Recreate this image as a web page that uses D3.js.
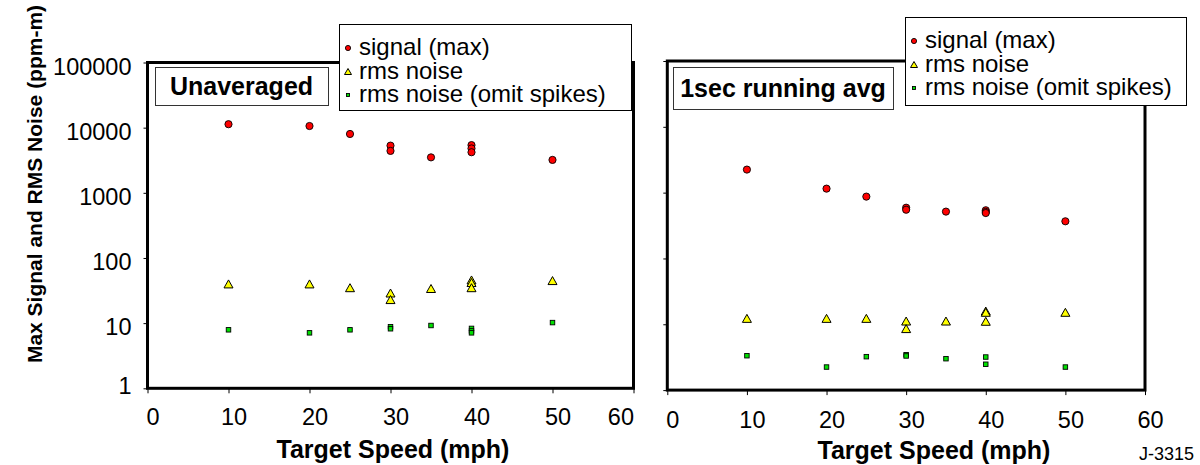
<!DOCTYPE html>
<html>
<head>
<meta charset="utf-8">
<script src="https://cdn.jsdelivr.net/npm/d3@7"></script>
<style>
  html, body { margin: 0; padding: 0; background: #fff; }
  svg { display: block; }
</style>
</head>
<body>
<svg id="chart" width="1200" height="465"></svg>
<script>
// ---- data: [target speed (mph), value (ppm-m)] ----
const unavgSignal = [[10, 11300], [20, 10600], [25, 8000], [30, 5300], [30, 4400],
  [35, 3500], [40, 5400], [40, 4800], [40, 4200], [50, 3200]];
const unavgRms = [[10, 40], [20, 40], [25, 35], [30, 29], [30, 23], [35, 34],
  [40, 46], [40, 42], [40, 35], [50, 45]];
const unavgRmsNoSpikes = [[10, 7.9], [20, 7.1], [25, 7.9], [30, 8.8], [30, 8.2],
  [35, 9.2], [40, 8.3], [40, 7.6], [40, 7.1], [50, 10.2]];

const avgSignal = [[10, 2240], [20, 1150], [25, 870], [30, 590], [30, 550],
  [35, 515], [40, 540], [40, 510], [40, 490], [50, 367]];
const avgRms = [[10, 12.3], [20, 12.3], [25, 12.3], [30, 11.2], [30, 8.6],
  [35, 11.2], [40, 15.9], [40, 15.2], [40, 11.1], [50, 15.2]];
const avgRmsNoSpikes = [[10, 3.33], [20, 2.24], [25, 3.22], [30, 3.45], [30, 3.3],
  [35, 3.0], [40, 3.18], [40, 2.47], [50, 2.24]];

const xTicks = [0, 10, 20, 30, 40, 50, 60];
const yTicks = [1, 10, 100, 1000, 10000, 100000];
const legendLabels = ["signal (max)", "rms noise", "rms noise (omit spikes)"];
const panelTitles = ["Unaveraged", "1sec running avg"];
const xTitle = "Target Speed (mph)";
const yTitle = "Max Signal and RMS Noise (ppm-m)";

const FONT = '"Liberation Sans", Arial, Helvetica, sans-serif';
const svg = d3.select("#chart");

// marker painters
function drawCircle(g, x, y, r) {
  g.append("circle").attr("cx", x).attr("cy", y).attr("r", r)
    .attr("fill", "#ff0000").attr("stroke", "#000").attr("stroke-width", 0.9);
}
function drawTriangle(g, x, y, w, h) {
  g.append("path")
    .attr("d", `M${x},${y - h / 2}L${x - w / 2},${y + h / 2}L${x + w / 2},${y + h / 2}Z`)
    .attr("fill", "#ffff00").attr("stroke", "#000").attr("stroke-width", 1);
}
function drawSquare(g, x, y, s) {
  g.append("rect").attr("x", x - s / 2).attr("y", y - s / 2).attr("width", s).attr("height", s)
    .attr("fill", "#00e000").attr("stroke", "#000").attr("stroke-width", 0.9);
}

function drawPanel(cfg) {
  const x = d3.scaleLinear().domain([0, 60]).range([cfg.left, cfg.right]);
  const y = d3.scaleLog().domain([1, 100000]).range([cfg.bottom, cfg.top]);
  const g = svg.append("g");

  // x axis
  const xa = g.append("g").attr("transform", `translate(0,${cfg.bottom})`)
    .call(d3.axisBottom(x).tickValues(xTicks).tickSize(5).tickFormat(d3.format("d")));
  xa.select(".domain").remove();
  xa.selectAll(".tick line").attr("stroke", "#000").attr("stroke-width", 1);
  xa.selectAll(".tick text")
    .attr("font-family", FONT).attr("font-size", 23.5).attr("fill", "#000")
    .attr("dy", null).attr("y", cfg.xLabelOffset)
    .attr("x", 5)
    .attr("text-anchor", "middle");
  if (cfg.clampLastLabel) {
    xa.selectAll(".tick text").filter(d => d === 60).attr("x", 0).attr("text-anchor", "end");
  }

  // y axis
  const ya = g.append("g").attr("transform", `translate(${cfg.left},0)`)
    .call(d3.axisLeft(y).tickValues(yTicks).tickSize(4).tickPadding(12)
      .tickFormat(d => cfg.yLabels ? String(d) : ""));
  ya.select(".domain").remove();
  ya.selectAll(".tick line").attr("stroke", "#000").attr("stroke-width", 1);
  ya.selectAll(".tick text")
    .attr("font-family", FONT).attr("font-size", 23.5).attr("fill", "#000")
    .attr("dy", d => d === 1 ? "0.24em" : "0.5em");

  // plot area frame
  g.append("rect")
    .attr("x", cfg.left).attr("y", cfg.top)
    .attr("width", cfg.right - cfg.left).attr("height", cfg.bottom - cfg.top)
    .attr("fill", "none").attr("stroke", "#000").attr("stroke-width", 3);

  // points
  const pts = g.append("g");
  cfg.signal.forEach(d => drawCircle(pts, x(d[0]), y(d[1]), 3.6));
  cfg.rms.forEach(d => drawTriangle(pts, x(d[0]), y(d[1]), 9, 8));
  cfg.rmsNoSpikes.forEach(d => drawSquare(pts, x(d[0]), y(d[1]), 4.5));

  // panel title box
  const tb = cfg.titleBox;
  g.append("rect").attr("x", tb.x + 0.5).attr("y", tb.y + 0.5)
    .attr("width", tb.w).attr("height", tb.h)
    .attr("fill", "#fff").attr("stroke", "#333").attr("stroke-width", 1);
  g.append("text").attr("x", tb.x + tb.w / 2).attr("y", tb.y + tb.h / 2 + 9)
    .attr("text-anchor", "middle")
    .attr("font-family", FONT).attr("font-weight", "bold").attr("font-size", 25)
    .text(cfg.title);

  // legend
  const lb = cfg.legendBox;
  const lg = g.append("g");
  lg.append("rect").attr("x", lb.x + 0.5).attr("y", lb.y + 0.5)
    .attr("width", lb.w).attr("height", lb.h)
    .attr("fill", "#fff").attr("stroke", "#000").attr("stroke-width", 1);
  legendLabels.forEach((t, i) => {
    const by = lb.y + 31 + i * 23.5;
    const my = by - 7;
    const mx = lb.x + 9;
    if (i === 0) drawCircle(lg, mx, my, 2.6);
    if (i === 1) drawTriangle(lg, mx, my, 7, 6);
    if (i === 2) drawSquare(lg, mx, my, 3);
    lg.append("text").attr("x", lb.x + 20).attr("y", by)
      .attr("font-family", FONT).attr("font-size", 24).attr("fill", "#000")
      .text(t);
  });

  // x axis title
  g.append("text").attr("x", cfg.xTitleX).attr("y", cfg.xTitleY)
    .attr("text-anchor", "middle")
    .attr("font-family", FONT).attr("font-weight", "bold").attr("font-size", 25)
    .text(xTitle);
}

drawPanel({
  left: 147.5, right: 633.5, top: 62.5, bottom: 388.3,
  xLabelOffset: 37, clampLastLabel: true, yLabels: true,
  signal: unavgSignal, rms: unavgRms, rmsNoSpikes: unavgRmsNoSpikes,
  title: panelTitles[0],
  titleBox: { x: 155, y: 67, w: 173, h: 38 },
  legendBox: { x: 339, y: 24, w: 292, h: 86 },
  xTitleX: 393, xTitleY: 457.5
});

drawPanel({
  left: 667.3, right: 1145, top: 61, bottom: 390.1,
  xLabelOffset: 38, clampLastLabel: false, yLabels: false,
  signal: avgSignal, rms: avgRms, rmsNoSpikes: avgRmsNoSpikes,
  title: panelTitles[1],
  titleBox: { x: 673, y: 67, w: 220, h: 42 },
  legendBox: { x: 905, y: 17, w: 281, h: 88 },
  xTitleX: 934, xTitleY: 459
});

// shared y axis title
svg.append("text")
  .attr("transform", "translate(42,184) rotate(-90)")
  .attr("text-anchor", "middle")
  .attr("font-family", FONT).attr("font-weight", "bold").attr("font-size", 21)
  .text(yTitle);

// figure id
svg.append("text").attr("x", 1139).attr("y", 460)
  .attr("font-family", FONT).attr("font-size", 18).attr("fill", "#000")
  .text("J-3315");
</script>
</body>
</html>
